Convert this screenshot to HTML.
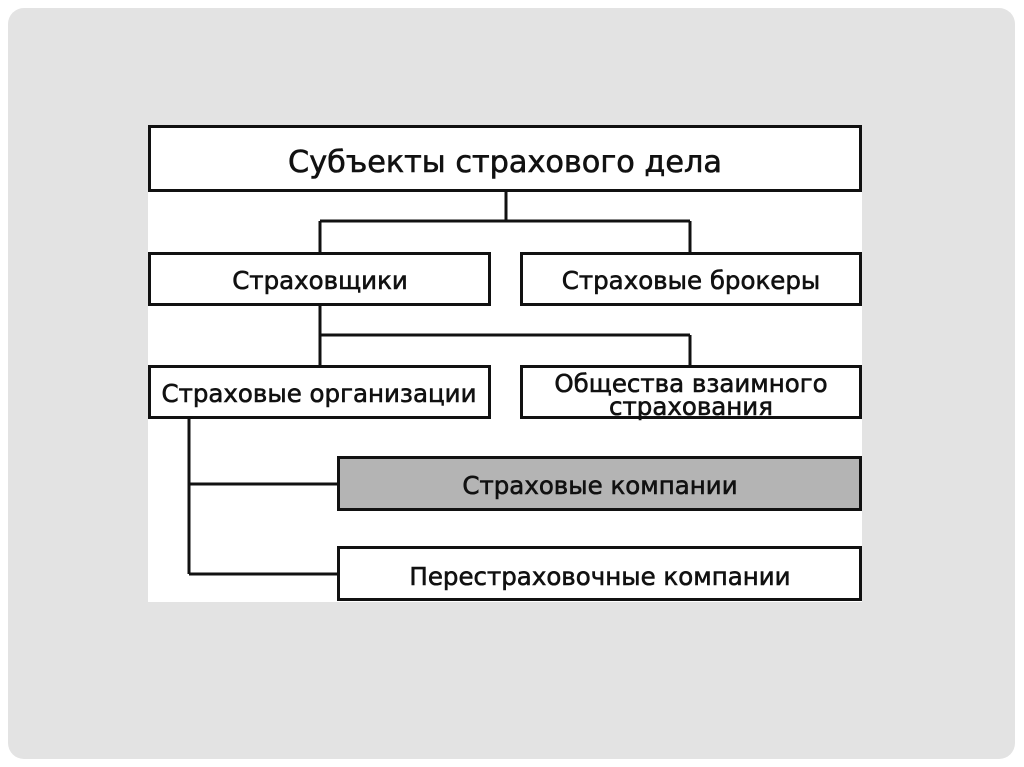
<!DOCTYPE html>
<html><head><meta charset="utf-8"><style>
html,body{margin:0;padding:0;background:#fff;}
svg{display:block;}
text{font-family:"DejaVu Sans","Liberation Sans",sans-serif;fill:#111;stroke:#111;stroke-width:0.6;}
</style></head><body>
<svg width="1024" height="767" viewBox="0 0 1024 767">
<rect x="8" y="8" width="1007" height="751" rx="16" fill="#e3e3e3"/>
<rect x="148" y="125" width="714" height="477" fill="#fff"/>
<g stroke="#111" stroke-width="3" fill="none">
<rect x="149.5" y="126.5" width="711" height="64" fill="#fff"/>
<path d="M506 191V221M320 221H690M320 221V252M690 221V252"/>
<rect x="149.5" y="253.5" width="340" height="51" fill="#fff"/>
<rect x="521.5" y="253.5" width="339" height="51" fill="#fff"/>
<path d="M320 305V335M320 335H690M320 335V365M690 335V365"/>
<rect x="149.5" y="366.5" width="340" height="51" fill="#fff"/>
<rect x="521.5" y="366.5" width="339" height="51" fill="#fff"/>
<path d="M189 418V574M189 484H337M189 574H337"/>
<rect x="338.5" y="457.5" width="522" height="52" fill="#b4b4b4"/>
<rect x="338.5" y="547.5" width="522" height="52" fill="#fff"/>
</g>
<text x="505" y="172" font-size="30.3" text-anchor="middle">Субъекты страхового дела</text>
<text x="320" y="289" font-size="24.5" text-anchor="middle">Страховщики</text>
<text x="691" y="289" font-size="24.5" text-anchor="middle">Страховые брокеры</text>
<text x="319" y="402" font-size="24.5" text-anchor="middle">Страховые организации</text>
<text x="691" y="392" font-size="24.5" text-anchor="middle">Общества взаимного</text>
<text x="691" y="415" font-size="24.5" text-anchor="middle">страхования</text>
<text x="600" y="494" font-size="24.5" text-anchor="middle">Страховые компании</text>
<text x="600" y="585" font-size="24.5" text-anchor="middle">Перестраховочные компании</text>
</svg>
</body></html>
